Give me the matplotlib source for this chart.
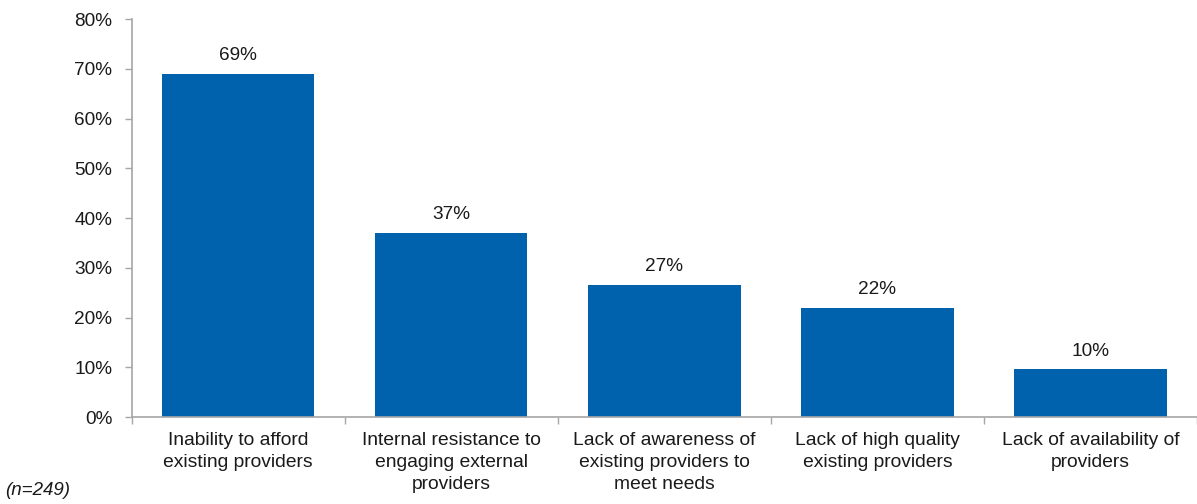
import matplotlib
matplotlib.use("Agg")
import matplotlib.pyplot as plt
from matplotlib.ticker import FixedLocator, NullFormatter

categories = [
    "Inability to afford\nexisting providers",
    "Internal resistance to\nengaging external\nproviders",
    "Lack of awareness of\nexisting providers to\nmeet needs",
    "Lack of high quality\nexisting providers",
    "Lack of availability of\nproviders",
]
values = [69, 37, 26.5, 22, 9.6]
value_labels = ["69%", "37%", "27%", "22%", "10%"]
yticks = [0, 10, 20, 30, 40, 50, 60, 70, 80]
ytick_labels = ["0%", "10%", "20%", "30%", "40%", "50%", "60%", "70%", "80%"]
note = "(n=249)"

plt.rcParams['font.family'] = ['Liberation Sans', 'DejaVu Sans']

fig = plt.figure(figsize=(11.97, 5.04), dpi=100)
ax = fig.add_axes([0.110, 0.1726, 0.890, 0.7897])

bar_color = "#0062AC"
axis_color = "#A6A6A6"

x = list(range(len(categories)))
ax.bar(x, values, width=0.715, color=bar_color, zorder=2)

for xi, v, lab in zip(x, values, value_labels):
    ax.annotate(lab, (xi, v), xytext=(0, 7), textcoords="offset points",
                ha="center", va="bottom", fontsize=13.7, color="#1a1a1a")

ax.set_xlim(-0.5, len(categories) - 0.5)
ax.set_ylim(0, 80)
ax.set_yticks(yticks)
ax.set_yticklabels(ytick_labels, fontsize=13.7, color="#1a1a1a")

ax.set_xticks(x)
ax.set_xticklabels(categories, fontsize=13.9, color="#1a1a1a", linespacing=1.38)
ax.tick_params(axis="x", which="major", length=0, pad=11)
ax.xaxis.set_minor_locator(FixedLocator([i - 0.5 for i in range(len(categories) + 1)]))
ax.xaxis.set_minor_formatter(NullFormatter())
ax.tick_params(axis="x", which="minor", length=5, width=1, color=axis_color)
ax.tick_params(axis="y", length=5, width=1, color=axis_color, pad=9)

for side in ["top", "right"]:
    ax.spines[side].set_visible(False)
for side in ["left", "bottom"]:
    ax.spines[side].set_color(axis_color)
    ax.spines[side].set_linewidth(1.2)

fig.text(0.004, 0.027, note, fontsize=13.5, style="italic", color="#1a1a1a",
         ha="left", va="center")

fig.savefig("out.png", dpi=100)
